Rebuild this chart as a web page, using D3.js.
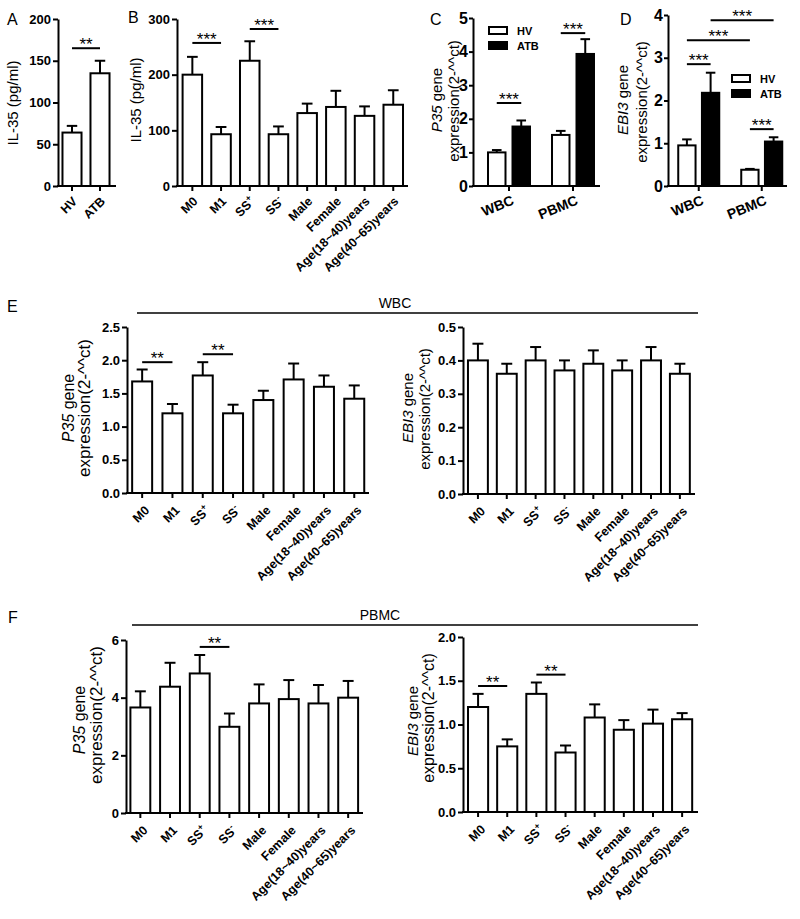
<!DOCTYPE html>
<html><head><meta charset="utf-8">
<script src="https://cdn.jsdelivr.net/npm/d3@7"></script>
<style>
body{margin:0;background:#fff}
svg{display:block}
text{font-family:"Liberation Sans",Arial,sans-serif;fill:#000}
</style>
</head><body>
<svg id="fig" width="800" height="919"></svg>
<script>
// ---------------- DATA ----------------
const catsA = ["HV", "ATB"];
const il35A = [64, 135];
const il35AErr = [72, 150];
const ticksA = [0, 50, 100, 150, 200];

const groups = ["M0", "M1", "SS+", "SS-", "Male", "Female", "Age(18~40)years", "Age(40~65)years"];
const il35B = [200, 93, 225, 93, 131, 142, 126, 146];
const il35BErr = [232, 106, 260, 107, 148, 171, 143, 172];
const ticksB = [0, 100, 200, 300];

const sites = ["WBC", "PBMC"];
const cohorts = ["HV", "ATB"];
const p35HV = [1.00, 1.52];
const p35HVErr = [1.07, 1.64];
const p35ATB = [1.77, 3.93];
const p35ATBErr = [1.95, 4.37];
const ticksC = [0, 1, 2, 3, 4, 5];

const ebi3HV = [0.95, 0.38];
const ebi3HVErr = [1.09, 0.40];
const ebi3ATB = [2.18, 1.04];
const ebi3ATBErr = [2.65, 1.14];
const ticksD = [0, 1, 2, 3, 4];

const p35WBC = [1.68, 1.20, 1.77, 1.20, 1.40, 1.71, 1.60, 1.42];
const p35WBCErr = [1.86, 1.34, 1.97, 1.33, 1.54, 1.95, 1.77, 1.62];
const ticksE1 = [0, 0.5, 1.0, 1.5, 2.0, 2.5];

const ebi3WBC = [0.40, 0.36, 0.40, 0.37, 0.39, 0.37, 0.40, 0.36];
const ebi3WBCErr = [0.45, 0.39, 0.44, 0.40, 0.43, 0.40, 0.44, 0.39];
const ticksE2 = [0, 0.1, 0.2, 0.3, 0.4, 0.5];

const p35PBMC = [3.66, 4.38, 4.84, 2.99, 3.80, 3.95, 3.80, 4.00];
const p35PBMCErr = [4.22, 5.21, 5.48, 3.45, 4.46, 4.61, 4.44, 4.58];
const ticksF1 = [0, 2, 4, 6];

const ebi3PBMC = [1.20, 0.75, 1.35, 0.68, 1.08, 0.94, 1.01, 1.06];
const ebi3PBMCErr = [1.35, 0.83, 1.48, 0.76, 1.23, 1.05, 1.17, 1.13];
const ticksF2 = [0, 0.5, 1.0, 1.5, 2.0];

// significance brackets (value = bracket height in data units)
const sigA = [{a: "HV", b: "ATB", v: 165, t: "**"}];
const sigB = [{a: "M0", b: "M1", v: 257, t: "***"}, {a: "SS+", b: "SS-", v: 282, t: "***"}];
const sigC = [{a: ["WBC", "HV"], b: ["WBC", "ATB"], v: 2.47, t: "***"}, {a: ["PBMC", "HV"], b: ["PBMC", "ATB"], v: 4.55, t: "***"}];
const sigD = [{a: ["WBC", "HV"], b: ["WBC", "ATB"], v: 2.85, t: "***"},
              {a: ["WBC", "HV"], b: ["PBMC", "HV"], v: 3.41, t: "***"},
              {a: ["WBC", "ATB"], b: ["PBMC", "ATB"], v: 3.88, t: "***"},
              {a: ["PBMC", "HV"], b: ["PBMC", "ATB"], v: 1.33, t: "***"}];
const sigE1 = [{a: "M0", b: "M1", v: 1.97, t: "**"}, {a: "SS+", b: "SS-", v: 2.09, t: "**"}];
const sigE2 = [];
const sigF1 = [{a: "SS+", b: "SS-", v: 5.76, t: "**"}];
const sigF2 = [{a: "M0", b: "M1", v: 1.44, t: "**"}, {a: "SS+", b: "SS-", v: 1.57, t: "**"}];

// ---------------- DRAWING ----------------
const svg = d3.select("#fig");
const FONT = '"Liberation Sans",Arial,sans-serif';

function setLabel(sel, s) {
  const m = s.match(/^SS([+-])$/);
  if (m) {
    sel.append("tspan").text("SS");
    sel.append("tspan").attr("dy", -5).attr("font-size", "0.7em").text(m[1]);
  } else sel.text(s);
}

function yAxis(g, y, cfg) {
  const ax = g.append("g").attr("transform", `translate(${cfg.axisX},0)`)
    .call(d3.axisLeft(y).tickValues(cfg.ticks).tickFormat(cfg.fmt)
      .tickSize(cfg.tickLen || 5).tickSizeOuter(0).tickPadding(cfg.tickPad || 2));
  ax.attr("font-family", FONT).attr("font-size", cfg.tickFs).attr("font-weight", cfg.tickFw || "bold");
  ax.select(".domain").attr("stroke-width", 2);
  ax.selectAll(".tick line").attr("stroke-width", 2);
  ax.selectAll(".tick text").attr("fill", "#000");
}

function yLabel(g, lines) {
  lines.forEach(l => {
    const t = g.append("text").attr("transform", `translate(${l.x},${l.y}) rotate(-90)`)
      .attr("text-anchor", "middle").attr("font-size", l.fs);
    if (l.it) t.append("tspan").attr("font-style", "italic").text(l.it);
    t.append("tspan").text(l.t);
  });
}

function sigMarks(g, list, pos, y, fs) {
  list.forEach(s => {
    const xa = pos(s.a), xb = pos(s.b), yy = y(s.v);
    g.append("line").attr("x1", xa).attr("x2", xb).attr("y1", yy).attr("y2", yy)
      .attr("stroke", "#000").attr("stroke-width", 2);
    g.append("text").attr("x", (xa + xb) / 2).attr("y", yy + 2).attr("text-anchor", "middle")
      .attr("font-size", fs).text(s.t);
  });
}

function errBars(g, data, cx, y, cap) {
  data.forEach(d => {
    const c = cx(d);
    g.append("line").attr("x1", c).attr("x2", c).attr("y1", y(d.v)).attr("y2", y(d.e))
      .attr("stroke", "#000").attr("stroke-width", 2);
    g.append("line").attr("x1", c - cap / 2).attr("x2", c + cap / 2).attr("y1", y(d.e)).attr("y2", y(d.e))
      .attr("stroke", "#000").attr("stroke-width", 2);
  });
}

function simpleChart(cfg) {
  const g = svg.append("g");
  const x = d3.scaleBand().domain(cfg.cats).range([cfg.x0, cfg.x1]).paddingInner(cfg.pad).paddingOuter(cfg.pad / 2);
  const y = d3.scaleLinear().domain([0, cfg.max]).range([cfg.yb, cfg.yt]);
  const data = cfg.cats.map((c, i) => ({c, v: cfg.values[i], e: cfg.errs[i]}));
  const cx = d => x(d.c) + x.bandwidth() / 2;
  errBars(g, data, cx, y, x.bandwidth() * 0.55);
  g.selectAll("rect.bar").data(data).join("rect").attr("class", "bar")
    .attr("x", d => x(d.c)).attr("y", d => y(d.v)).attr("width", x.bandwidth()).attr("height", d => y(0) - y(d.v))
    .attr("fill", "#fff").attr("stroke", "#000").attr("stroke-width", 2);
  yAxis(g, y, cfg);
  g.append("line").attr("x1", cfg.axisX - 1).attr("x2", cfg.axisEnd).attr("y1", y(0)).attr("y2", y(0))
    .attr("stroke", "#000").attr("stroke-width", 2);
  g.selectAll("line.xt").data(data).join("line").attr("class", "xt")
    .attr("x1", cx).attr("x2", cx).attr("y1", y(0)).attr("y2", y(0) + 5).attr("stroke", "#000").attr("stroke-width", 2);
  g.selectAll("text.xl").data(data).join("text").attr("class", "xl")
    .attr("transform", d => `translate(${cx(d) + cfg.lx},${y(0) + cfg.ly}) rotate(-45)`)
    .attr("text-anchor", "end").attr("font-size", cfg.labFs).attr("font-weight", "bold")
    .each(function (d) { setLabel(d3.select(this), d.c); });
  sigMarks(g, cfg.sig, c => x(c) + x.bandwidth() / 2, y, cfg.sigFs || 17);
  yLabel(g, cfg.ylab);
  return g;
}

function groupChart(cfg) {
  const g = svg.append("g");
  const xg = d3.scaleBand().domain(sites).range([cfg.x0, cfg.x1]).paddingInner(cfg.gpad).paddingOuter(cfg.gpad / 2);
  const xi = d3.scaleBand().domain(cohorts).range([0, xg.bandwidth()]).paddingInner(cfg.ipad).paddingOuter(0);
  const y = d3.scaleLinear().domain([0, cfg.max]).range([cfg.yb, cfg.yt]);
  const data = [];
  sites.forEach((s, i) => {
    data.push({s, k: "HV", v: cfg.hv[i], e: cfg.hvErr[i]});
    data.push({s, k: "ATB", v: cfg.atb[i], e: cfg.atbErr[i]});
  });
  const bx = d => xg(d.s) + xi(d.k);
  const cx = d => bx(d) + xi.bandwidth() / 2;
  errBars(g, data, cx, y, xi.bandwidth() * 0.55);
  g.selectAll("rect.bar").data(data).join("rect").attr("class", "bar")
    .attr("x", bx).attr("y", d => y(d.v)).attr("width", xi.bandwidth()).attr("height", d => y(0) - y(d.v))
    .attr("fill", d => d.k === "HV" ? "#fff" : "#000").attr("stroke", "#000").attr("stroke-width", 2);
  yAxis(g, y, cfg);
  g.append("line").attr("x1", cfg.axisX - 1).attr("x2", cfg.axisEnd).attr("y1", y(0)).attr("y2", y(0))
    .attr("stroke", "#000").attr("stroke-width", 2);
  const gc = s => xg(s) + xg.bandwidth() / 2;
  g.selectAll("line.xt").data(sites).join("line").attr("class", "xt")
    .attr("x1", gc).attr("x2", gc).attr("y1", y(0)).attr("y2", y(0) + 5).attr("stroke", "#000").attr("stroke-width", 2);
  g.selectAll("text.xl").data(sites).join("text").attr("class", "xl")
    .attr("transform", s => `translate(${gc(s) + cfg.lx},${y(0) + cfg.ly}) rotate(-22)`)
    .attr("text-anchor", "end").attr("font-size", 14).attr("font-weight", "bold").text(s => s);
  sigMarks(g, cfg.sig, p => xg(p[0]) + xi(p[1]) + xi.bandwidth() / 2, y, 17);
  // legend
  cohorts.forEach((k, i) => {
    const ly = cfg.legY + i * 15;
    g.append("rect").attr("x", cfg.legX).attr("y", ly).attr("width", 18).attr("height", 7)
      .attr("fill", k === "HV" ? "#fff" : "#000").attr("stroke", "#000").attr("stroke-width", 2);
    g.append("text").attr("x", cfg.legX + 28).attr("y", ly + 8).attr("font-size", 11).attr("font-weight", "bold").text(k);
  });
  yLabel(g, cfg.ylab);
  return g;
}

// panel letters
[["A", 7, 25], ["B", 128, 23], ["C", 430, 25], ["D", 620, 25], ["E", 7, 312], ["F", 8, 623]].forEach(p => {
  svg.append("text").attr("x", p[1]).attr("y", p[2]).attr("font-size", 16).text(p[0]);
});

// A
simpleChart({cats: catsA, values: il35A, errs: il35AErr, max: 200, ticks: ticksA, fmt: d3.format("d"),
  x0: 58, x1: 114, pad: 0.32, yb: 186, yt: 19, axisX: 58, axisEnd: 116, tickFs: 13,
  lx: 6, ly: 16, labFs: 12.5, sig: sigA,
  ylab: [{x: 18, y: 103, fs: 15, t: "IL-35 (pg/ml)"}]});

// B
simpleChart({cats: groups, values: il35B, errs: il35BErr, max: 300, ticks: ticksB, fmt: d3.format("d"),
  x0: 178, x1: 407.6, pad: 0.32, yb: 186, yt: 19, axisX: 177, axisEnd: 408, tickFs: 13,
  lx: 6, ly: 16, labFs: 12.5, sig: sigB,
  ylab: [{x: 141, y: 100, fs: 15, t: "IL-35 (pg/ml)"}]});

// C
groupChart({hv: p35HV, hvErr: p35HVErr, atb: p35ATB, atbErr: p35ATBErr, max: 5, ticks: ticksC, fmt: d3.format("d"),
  x0: 477, x1: 605, gpad: 0.344, ipad: 0.286, yb: 186, yt: 18, axisX: 473, axisEnd: 600,
  tickFs: 16, tickFw: "bold", tickLen: 4, tickPad: 1, lx: 6, ly: 18, sig: sigC, legX: 489, legY: 27,
  ylab: [{x: 442, y: 100, fs: 15, it: "P35", t: " gene"}, {x: 459, y: 101, fs: 15, t: "expression(2-^^ct)"}]});

// D
groupChart({hv: ebi3HV, hvErr: ebi3HVErr, atb: ebi3ATB, atbErr: ebi3ATBErr, max: 4, ticks: ticksD, fmt: d3.format("d"),
  x0: 667.25, x1: 793.25, gpad: 0.349, ipad: 0.27, yb: 186, yt: 15, axisX: 668, axisEnd: 787,
  tickFs: 16, tickFw: "bold", tickLen: 4, tickPad: 1, lx: 6, ly: 18, sig: sigD, legX: 732, legY: 75,
  ylab: [{x: 628, y: 100, fs: 15, it: "EBI3", t: " gene"}, {x: 647, y: 102, fs: 15, t: "expression(2-^^ct)"}]});

// Section titles
function section(x1, x2, y, title, tx) {
  svg.append("line").attr("x1", x1).attr("x2", x2).attr("y1", y).attr("y2", y).attr("stroke", "#000").attr("stroke-width", 1.5);
  svg.append("text").attr("x", tx).attr("y", y - 5).attr("text-anchor", "middle").attr("font-size", 14).text(title);
}
section(137, 698, 313, "WBC", 395);
section(132, 698, 625, "PBMC", 380);

// E left
simpleChart({cats: groups, values: p35WBC, errs: p35WBCErr, max: 2.5, ticks: ticksE1, fmt: d3.format(".1f"),
  x0: 127, x1: 369.4, pad: 0.34, yb: 493, yt: 327, axisX: 127, axisEnd: 369, tickFs: 13,
  lx: 8, ly: 18, labFs: 12.5, sig: sigE1,
  ylab: [{x: 74, y: 408, fs: 16, it: "P35", t: " gene"}, {x: 90, y: 408, fs: 17, t: "expression(2-^^ct)"}]});

// E right
simpleChart({cats: groups, values: ebi3WBC, errs: ebi3WBCErr, max: 0.5, ticks: ticksE2, fmt: d3.format(".1f"),
  x0: 463.5, x1: 694.3, pad: 0.31, yb: 494, yt: 327, axisX: 463, axisEnd: 695, tickFs: 13,
  lx: 8, ly: 18, labFs: 12.5, sig: sigE2,
  ylab: [{x: 413, y: 408, fs: 15, it: "EBI3", t: " gene"}, {x: 430, y: 409, fs: 15, t: "expression(2-^^ct)"}]});

// F left
simpleChart({cats: groups, values: p35PBMC, errs: p35PBMCErr, max: 6, ticks: ticksF1, fmt: d3.format("d"),
  x0: 125.5, x1: 363, pad: 0.33, yb: 813, yt: 640, axisX: 126, axisEnd: 363, tickFs: 13,
  lx: 8, ly: 18, labFs: 12.5, sig: sigF1,
  ylab: [{x: 85, y: 720, fs: 16, it: "P35", t: " gene"}, {x: 102, y: 715, fs: 17, t: "expression(2-^^ct)"}]});

// F right
simpleChart({cats: groups, values: ebi3PBMC, errs: ebi3PBMCErr, max: 2, ticks: ticksF2, fmt: d3.format(".1f"),
  x0: 463.5, x1: 696.7, pad: 0.31, yb: 812, yt: 637, axisX: 463, axisEnd: 698, tickFs: 13,
  lx: 8, ly: 18, labFs: 12.5, sig: sigF2,
  ylab: [{x: 418, y: 721, fs: 15, it: "EBI3", t: " gene"}, {x: 434, y: 718, fs: 16, t: "expression(2-^^ct)"}]});
</script>
</body></html>
